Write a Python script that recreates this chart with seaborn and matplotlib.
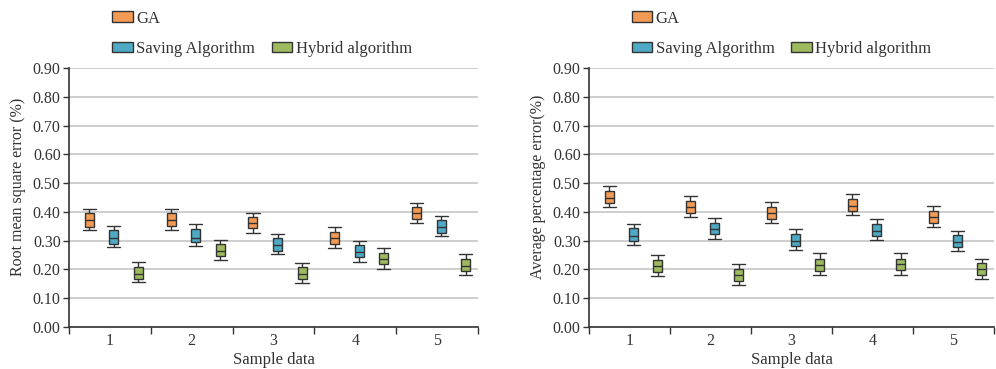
import numpy as np
import pandas as pd
import matplotlib
matplotlib.use("Agg")
import matplotlib.pyplot as plt
import matplotlib.transforms as mtransforms
from matplotlib.patches import Patch
import seaborn as sns

# ---------------- data (whisker low, Q1, median, Q3, whisker high) ----------------
samples = ["1", "2", "3", "4", "5"]
algorithms = ["GA", "Saving Algorithm", "Hybrid algorithm"]

rmse_ga = [(0.337, 0.348, 0.371, 0.397, 0.411),
           (0.337, 0.350, 0.373, 0.395, 0.411),
           (0.327, 0.343, 0.360, 0.383, 0.397),
           (0.275, 0.288, 0.308, 0.331, 0.346),
           (0.360, 0.374, 0.395, 0.416, 0.432)]
rmse_saving = [(0.279, 0.290, 0.310, 0.337, 0.352),
               (0.280, 0.295, 0.310, 0.340, 0.357),
               (0.252, 0.265, 0.285, 0.308, 0.322),
               (0.227, 0.242, 0.261, 0.285, 0.300),
               (0.316, 0.327, 0.348, 0.371, 0.386)]
rmse_hybrid = [(0.155, 0.167, 0.184, 0.209, 0.225),
               (0.233, 0.247, 0.264, 0.288, 0.302),
               (0.152, 0.167, 0.183, 0.207, 0.221),
               (0.201, 0.218, 0.235, 0.258, 0.273),
               (0.180, 0.196, 0.213, 0.238, 0.253)]

ape_ga = [(0.416, 0.430, 0.449, 0.473, 0.490),
          (0.383, 0.397, 0.416, 0.439, 0.456),
          (0.362, 0.377, 0.397, 0.418, 0.435),
          (0.388, 0.403, 0.421, 0.444, 0.461),
          (0.348, 0.363, 0.383, 0.403, 0.420)]
ape_saving = [(0.285, 0.300, 0.316, 0.343, 0.358),
              (0.306, 0.322, 0.339, 0.363, 0.380),
              (0.267, 0.281, 0.300, 0.323, 0.339),
              (0.302, 0.316, 0.334, 0.358, 0.375),
              (0.264, 0.277, 0.296, 0.318, 0.334)]
ape_hybrid = [(0.177, 0.192, 0.212, 0.233, 0.250),
              (0.146, 0.161, 0.180, 0.201, 0.219),
              (0.180, 0.196, 0.215, 0.238, 0.256),
              (0.180, 0.198, 0.218, 0.238, 0.256),
              (0.166, 0.180, 0.200, 0.221, 0.238)]

y_ticks = [0.0, 0.1, 0.2, 0.3, 0.4, 0.5, 0.6, 0.7, 0.8, 0.9]
left_ylabel = "Root mean square error (%)"
right_ylabel = "Average percentage error(%)"
xlabel = "Sample data"

colors = ["#F39A55", "#4EAAC4", "#9DBB5E"]


def to_long(series_list):
    rows = []
    for alg, series in zip(algorithms, series_list):
        for s, stats in zip(samples, series):
            for v in stats:
                rows.append({"sample": s, "algorithm": alg, "value": v})
    return pd.DataFrame(rows)


sns.set_style("white")
plt.rcParams["font.family"] = ["Liberation Serif", "DejaVu Serif"]
text_color = "#333333"

fig = plt.figure(figsize=(9.96, 3.69), dpi=100)
ax_l = fig.add_axes([69 / 996, 1 - 327 / 369, 409 / 996, 259 / 369])
ax_r = fig.add_axes([589 / 996, 1 - 327 / 369, 405 / 996, 259 / 369])

palette = dict(zip(algorithms, colors))

for ax, data, ylab in [(ax_l, [rmse_ga, rmse_saving, rmse_hybrid], left_ylabel),
                       (ax_r, [ape_ga, ape_saving, ape_hybrid], right_ylabel)]:
    df = to_long(data)
    sns.boxplot(data=df, x="sample", y="value", hue="algorithm",
                order=samples, hue_order=algorithms, palette=palette,
                width=0.9, gap=0.63, whis=np.inf, saturation=1,
                linewidth=1.0, linecolor="#333333", legend=False,
                capwidths=0.16, ax=ax)
    shift = mtransforms.ScaledTranslation(0.04, 0, fig.dpi_scale_trans)
    for art in list(ax.patches) + list(ax.lines):
        art.set_transform(art.get_transform() + shift)

    ax.set_xlim(-0.5, 4.5)
    ax.set_ylim(0, 0.9)
    ax.set_yticks(y_ticks)
    ax.set_yticklabels([f"{t:.2f}" for t in y_ticks], fontsize=11.5, color=text_color)
    ax.set_xticks(range(len(samples)))
    ax.set_xticklabels(samples, fontsize=11.5, color=text_color)
    ax.set_xticks(np.arange(-0.5, 5.0, 1.0), minor=True)
    ax.tick_params(axis="x", which="major", length=0, pad=4)
    ax.tick_params(axis="x", which="minor", length=5, width=1.0,
                   direction="out", color="#333333", bottom=True)
    ax.tick_params(axis="y", length=4, width=1.0, direction="out",
                   color="#333333", left=True, pad=2)
    ax.yaxis.grid(True, color="#c6c6c6", linewidth=1.2)
    ax.xaxis.grid(False)
    ax.set_axisbelow(True)
    for side in ["top", "right"]:
        ax.spines[side].set_visible(False)
    for side in ["left", "bottom"]:
        ax.spines[side].set_color("#333333")
        ax.spines[side].set_linewidth(1.2)

    ax.set_ylabel(ylab, fontsize=11.5, color=text_color)
    ax.yaxis.set_label_coords(-0.105, 0.54)
    ax.set_xlabel(xlabel, fontsize=12, color=text_color)
    ax.xaxis.set_label_coords(0.5, -0.097)

    handles = [Patch(facecolor=colors[0], edgecolor="#333333", linewidth=1.0),
               Patch(facecolor=colors[1], edgecolor="#333333", linewidth=1.0),
               Patch(facecolor="none", edgecolor="none"),
               Patch(facecolor=colors[2], edgecolor="#333333", linewidth=1.0)]
    labels = [algorithms[0], algorithms[1], "", algorithms[2]]
    ax.legend(handles, labels, ncol=2, frameon=False, loc="upper left",
              bbox_to_anchor=(0.105, 1.222), fontsize=12,
              handlelength=1.25, handleheight=0.6, handletextpad=0.2,
              labelspacing=0.85, columnspacing=1.0, borderpad=0,
              borderaxespad=0, labelcolor=text_color)

fig.savefig("out.png", dpi=100)
